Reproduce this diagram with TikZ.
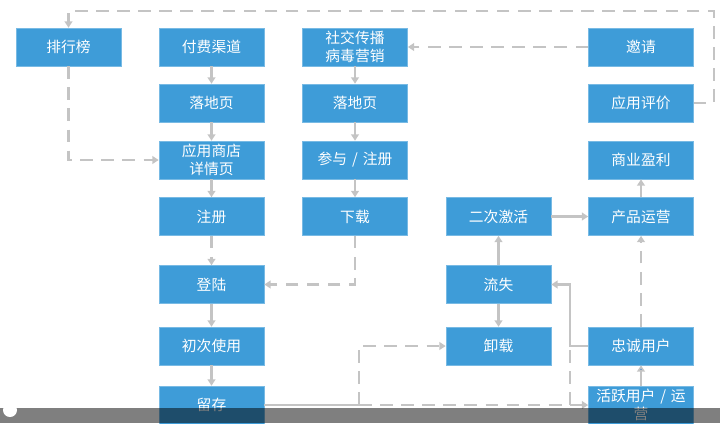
\documentclass[tikz,border=0pt]{standalone}
\usepackage{fontspec}
\setmainfont{Noto Sans CJK SC}
\usetikzlibrary{arrows.meta, positioning, calc}
\definecolor{boxblue}{HTML}{3E9CD8}
\definecolor{linegray}{HTML}{C4C4C4}
\definecolor{tipblue}{HTML}{5A9AD6}

\begin{document}
\begin{tikzpicture}[
    x=0.025cm, y=-0.025cm,
    box/.style={rectangle, fill=boxblue, draw=boxblue!70!white, line width=0.4pt,
        minimum width=2.625cm, minimum height=0.95cm, text width=2.5cm, align=center,
        inner sep=1pt, font=\fontsize{10.5}{12.5}\selectfont, text=white},
    flow/.style={linegray, line width=1.7pt, -{Triangle[width=5.5pt,length=4.5pt]}},
    link/.style={linegray, line width=1.7pt},
    dashflow/.style={flow, dash pattern=on 9pt off 6pt},
    dashlink/.style={link, dash pattern=on 9pt off 6pt}
]
    \useasboundingbox (0,0) rectangle (720,423);

    % column 1 and 2
    \node[box] (rank)   at (68.5,47)   {排行榜};
    \node[box] (paid)   at (211.5,47)  {付费渠道};
    \node[box] (land1)  at (211.5,103) {落地页};
    \node[box] (store)  at (211.5,160) {应用商店\\详情页};
    \node[box] (reg)    at (211.5,216.5) {注册};
    \node[box] (login)  at (211.5,284.5) {登陆};
    \node[box] (first)  at (211.5,346) {初次使用};
    \node[box] (keep)   at (211.5,405) {留存};

    % column 3
    \node[box] (social) at (355,47)    {社交传播\\病毒营销};
    \node[box] (land2)  at (355,103)   {落地页};
    \node[box] (join)   at (355,160)   {参与 / 注册};
    \node[box] (down)   at (355,216.5) {下载};

    % column 4
    \node[box] (react)  at (498.5,216.5) {二次激活};
    \node[box] (churn)  at (498.5,284.5) {流失};
    \node[box] (uninst) at (498.5,346)   {卸载};

    % column 5
    \node[box] (invite) at (641,47)    {邀请};
    \node[box] (review) at (641,103)   {应用评价};
    \node[box] (profit) at (641,160)   {商业盈利};
    \node[box] (ops)    at (641,216.5) {产品运营};
    \node[box] (loyal)  at (641,346)   {忠诚用户};
    \node[box] (active) at (641,405)   {活跃用户 / 运\\营};

    \coordinate (split) at (359,405);
    \coordinate (back)  at (570,405);

    % main funnel
    \draw[flow] (paid) -- (land1);
    \draw[flow] (land1) -- (store);
    \draw[flow] (store) -- (reg);
    \draw[dashflow] (reg) -- (login);
    \draw[flow] (login) -- (first);
    \draw[flow] (first) -- (keep);

    \draw[flow] (social) -- (land2);
    \draw[flow] (land2) -- (join);
    \draw[flow] (join) -- (down);
    \draw[dashflow] (down.south) |- (login.east);
    \draw[dashflow] (rank.south) |- (store.west);
    \draw[dashflow] (invite) -- (social);
    \draw[dashflow] (review.east) -- ++(20,0) -- ++(0,-92) -| (rank.north);

    % retention side
    \draw[flow] (react) -- (ops);
    \draw[flow] (ops) -- (profit);
    \draw[flow] (churn) -- (react);
    \draw[flow] (churn) -- (uninst);
    \draw[flow] (loyal.west) -- ++(-18,0) |- (churn.east);
    \draw[dashflow] (loyal) -- (ops);
    \draw[link, -{Triangle[width=5.5pt,length=4.5pt,fill=tipblue]}] (active) -- (loyal);

    \draw[link] (keep.east) -- (split);
    \draw[dashflow] (split) |- (uninst.west);
    \draw[dashflow] (split) -- (active.west);
    \draw[dashlink] (back) -- ++(0,-59);

    % player bar
    \fill[black, opacity=0.5] (0,408) rectangle (720,423);
    \fill[white] (10,410) circle (7);
\end{tikzpicture}
\end{document}
